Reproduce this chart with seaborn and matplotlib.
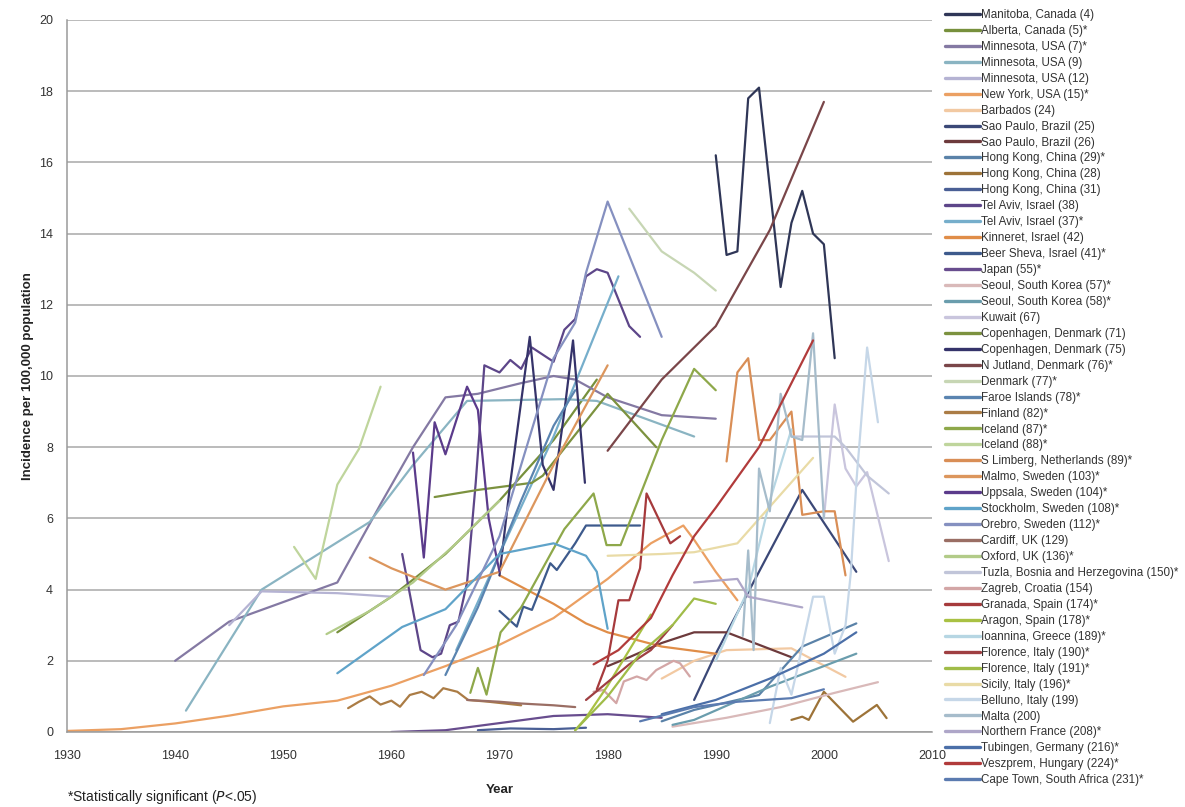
import matplotlib
matplotlib.use("Agg")
import matplotlib.pyplot as plt
import pandas as pd
import seaborn as sns

# Crohn's disease incidence per 100,000 over time, one line per study region
MANITOBA_4 = ([1990, 1991, 1992, 1993, 1994, 1996, 1997, 1998, 1999, 2000, 2001],
              [16.2, 13.4, 13.5, 17.8, 18.1, 12.5, 14.3, 15.2, 14.0, 13.7, 10.5])
ALBERTA_5 = ([1955, 1960, 1965, 1970, 1975, 1979], [2.8, 3.8, 5.0, 6.5, 8.2, 9.9])
MINNESOTA_7 = ([1940, 1945, 1955, 1959, 1962, 1965, 1968, 1972, 1975, 1977, 1980, 1985, 1990],
               [2.0, 3.1, 4.2, 6.4, 8.0, 9.4, 9.5, 9.8, 10.0, 9.9, 9.4, 8.9, 8.8])
MINNESOTA_9 = ([1941, 1948, 1958, 1962, 1967, 1976, 1979, 1988],
               [0.6, 4.0, 5.9, 7.5, 9.3, 9.35, 9.3, 8.3])
MINNESOTA_12 = ([1945, 1948, 1955, 1960], [3.0, 3.95, 3.9, 3.8])
NEW_YORK_15 = ([1930, 1935, 1940, 1945, 1950, 1955, 1960, 1965, 1970, 1975, 1980, 1984, 1987, 1988, 1990, 1992],
               [0.03, 0.08, 0.24, 0.46, 0.72, 0.88, 1.3, 1.85, 2.45, 3.2, 4.3, 5.3, 5.8, 5.4, 4.5, 3.7])
BARBADOS_24 = ([1985, 1988, 1991, 1997, 2002], [1.5, 2.0, 2.3, 2.35, 1.55])
SAO_PAULO_25 = ([1988, 1990, 1998, 2003], [0.9, 2.2, 6.8, 4.5])
SAO_PAULO_26 = ([1980, 1982, 1985, 1988, 1991, 1997], [1.85, 2.1, 2.5, 2.8, 2.8, 2.1])
HONG_KONG_29 = ([1985, 1988, 1994, 1998, 2003], [0.3, 0.62, 1.04, 2.4, 3.05])
HONG_KONG_28 = ([1997, 1998, 1998.6, 2000, 2002.7, 2004.9, 2005.8],
                [0.34, 0.43, 0.34, 1.13, 0.29, 0.76, 0.39])
HONG_KONG_31 = ([1968, 1971, 1975, 1978], [0.05, 0.1, 0.08, 0.12])
TEL_AVIV_38 = ([1961, 1962.7, 1963.8, 1964.6, 1965.4, 1966.2, 1967.0, 1967.8, 1968.6, 1970, 1971, 1972,
                1973, 1974, 1975, 1976, 1977, 1978, 1979, 1980, 1982, 1983],
               [5.0, 2.3, 2.1, 2.2, 3.0, 3.1, 4.2, 7.0, 10.3, 10.1, 10.45, 10.2,
                10.8, 10.6, 10.4, 11.3, 11.6, 12.8, 13.0, 12.9, 11.4, 11.1])
TEL_AVIV_37 = ([1966, 1970, 1975, 1981], [2.3, 5.0, 8.3, 12.8])
KINNERET_42 = ([1970, 1975, 1978, 1980, 1985, 1990], [4.4, 3.6, 3.05, 2.8, 2.4, 2.2])
BEER_SHEVA_41 = ([1970, 1971.6, 1972.2, 1973, 1974.7, 1975.3, 1977, 1978, 1983],
                 [3.4, 2.96, 3.52, 3.43, 4.74, 4.55, 5.3, 5.8, 5.8])
JAPAN_55 = ([1960, 1965, 1970, 1975, 1980, 1985], [0.0, 0.05, 0.25, 0.45, 0.5, 0.4])
SEOUL_57 = ([1986, 1991, 1996, 2001, 2005], [0.15, 0.4, 0.7, 1.1, 1.4])
SEOUL_58 = ([1986, 1988, 1995, 2003], [0.2, 0.34, 1.27, 2.2])
KUWAIT_67 = ([2000, 2001, 2002, 2003, 2004, 2006], [6.0, 9.2, 7.4, 6.9, 7.3, 4.8])
COPENHAGEN_71 = ([1964, 1968, 1973, 1974, 1980, 1984.5], [6.6, 6.8, 7.0, 7.2, 9.5, 8.0])
COPENHAGEN_75 = ([1970, 1971, 1972.8, 1974, 1975, 1976, 1976.8, 1977.9],
                 [4.4, 7.0, 11.1, 7.5, 6.8, 9.0, 11.0, 7.0])
N_JUTLAND_76 = ([1980, 1985, 1990, 1995, 2000], [7.9, 9.9, 11.4, 14.1, 17.7])
DENMARK_77 = ([1982, 1985, 1988, 1990], [14.7, 13.5, 12.9, 12.4])
FAROE_78 = ([1965, 1968, 1970, 1972, 1975, 1977], [1.6, 3.5, 5.0, 6.5, 8.6, 9.6])
FINLAND_82 = ([1956, 1957, 1958, 1959, 1960, 1960.8, 1961.7, 1962.8, 1963.9, 1964.8, 1966.1, 1967.1, 1969, 1972],
              [0.67, 0.85, 1.0, 0.77, 0.88, 0.71, 1.04, 1.13, 0.95, 1.23, 1.13, 0.9, 0.85, 0.75])
ICELAND_87 = ([1967.3, 1968, 1968.8, 1970.1, 1972, 1974, 1976, 1978.7, 1979.9, 1981.2, 1985, 1988, 1990],
              [1.1, 1.8, 1.05, 2.8, 3.5, 4.6, 5.7, 6.7, 5.25, 5.25, 8.2, 10.2, 9.6])
ICELAND_88 = ([1951, 1953, 1955, 1957, 1959], [5.2, 4.3, 6.95, 7.95, 9.7])
S_LIMBERG_89 = ([1991, 1992, 1993, 1994, 1995, 1996, 1997, 1998, 2000, 2001, 2002],
                [7.6, 10.1, 10.5, 8.2, 8.2, 8.6, 9.0, 6.1, 6.2, 6.2, 4.4])
MALMO_103 = ([1958, 1960, 1965, 1968, 1970, 1975, 1980], [4.9, 4.6, 4.0, 4.3, 4.5, 7.5, 10.3])
UPPSALA_104 = ([1962, 1963, 1964, 1965, 1967, 1968, 1969, 1970], [7.85, 4.9, 8.7, 7.8, 9.7, 9.05, 6.0, 4.5])
STOCKHOLM_108 = ([1955, 1961, 1965, 1970, 1975, 1978, 1979, 1980], [1.65, 2.95, 3.45, 5.0, 5.3, 4.95, 4.5, 2.9])
OREBRO_112 = ([1963, 1966, 1970, 1973, 1975, 1977, 1978, 1980, 1985],
              [1.6, 3.0, 5.5, 8.5, 10.5, 11.5, 12.9, 14.9, 11.1])
CARDIFF_129 = ([1967, 1970, 1972, 1975, 1977], [0.9, 0.85, 0.8, 0.75, 0.7])
OXFORD_136 = ([1954, 1958, 1962, 1966, 1970], [2.75, 3.4, 4.2, 5.3, 6.5])
TUZLA_150 = ([1997, 1999, 2001, 2002, 2003, 2004, 2006], [8.3, 8.3, 8.3, 8.0, 7.6, 7.2, 6.7])
ZAGREB_154 = ([1978.7, 1979.6, 1980.8, 1981.5, 1982.7, 1983.6, 1984.5, 1986.1, 1986.7, 1987.6],
              [1.13, 1.18, 0.81, 1.42, 1.56, 1.46, 1.74, 2.0, 1.93, 1.56])
GRANADA_174 = ([1979, 1980, 1981, 1982, 1983, 1983.6, 1985.8, 1986.7], [1.2, 2.0, 3.7, 3.7, 4.6, 6.7, 5.3, 5.5])
ARAGON_178 = ([1977, 1978, 1980, 1982, 1984], [0.05, 0.4, 1.3, 2.3, 3.3])
IOANNINA_189 = ([1990, 1993, 1995, 1997], [2.0, 4.0, 6.5, 8.5])
FLORENCE_190 = ([1978, 1980, 1982, 1984, 1986], [0.9, 1.4, 1.9, 2.3, 3.0])
FLORENCE_191 = ([1977, 1980, 1983, 1986, 1988, 1990], [0.05, 1.0, 2.2, 3.0, 3.75, 3.6])
SICILY_196 = ([1980, 1985, 1988, 1992, 1999], [4.95, 5.0, 5.05, 5.3, 7.7])
BELLUNO_199 = ([1995, 1996, 1997, 1998, 1999, 2000, 2001, 2002, 2002.5, 2003, 2004, 2005],
               [0.25, 1.8, 1.05, 2.4, 3.8, 3.8, 2.2, 3.0, 4.5, 7.0, 10.8, 8.7])
MALTA_200 = ([1992.5, 1993, 1993.5, 1994, 1995, 1996, 1997, 1998, 1999, 2000],
             [2.7, 5.1, 2.3, 7.4, 6.2, 9.5, 8.3, 8.2, 11.2, 6.0])
N_FRANCE_208 = ([1988, 1992, 1993, 1998], [4.2, 4.3, 3.8, 3.5])
TUBINGEN_216 = ([1985, 1990, 1995, 2000, 2003], [0.5, 0.9, 1.5, 2.2, 2.8])
VESZPREM_224 = ([1978.7, 1981, 1984, 1986, 1988, 1990, 1994, 1999], [1.9, 2.3, 3.2, 4.4, 5.5, 6.3, 8.0, 11.0])
CAPE_TOWN_231 = ([1983, 1988, 1992, 1997, 2000], [0.3, 0.7, 0.85, 0.95, 1.2])

# legend label, data, line colour (in legend order)
SERIES = [
    ("Manitoba, Canada (4)", MANITOBA_4, "#2f3657"),
    ("Alberta, Canada (5)*", ALBERTA_5, "#77903c"),
    ("Minnesota, USA (7)*", MINNESOTA_7, "#8479a3"),
    ("Minnesota, USA (9)", MINNESOTA_9, "#8ab4c2"),
    ("Minnesota, USA (12)", MINNESOTA_12, "#b5b3d3"),
    ("New York, USA (15)*", NEW_YORK_15, "#eba063"),
    ("Barbados (24)", BARBADOS_24, "#f2c9a2"),
    ("Sao Paulo, Brazil (25)", SAO_PAULO_25, "#3b4877"),
    ("Sao Paulo, Brazil (26)", SAO_PAULO_26, "#6d3a3c"),
    ("Hong Kong, China (29)*", HONG_KONG_29, "#5a82a8"),
    ("Hong Kong, China (28)", HONG_KONG_28, "#9d7338"),
    ("Hong Kong, China (31)", HONG_KONG_31, "#4a5f95"),
    ("Tel Aviv, Israel (38)", TEL_AVIV_38, "#5d4689"),
    ("Tel Aviv, Israel (37)*", TEL_AVIV_37, "#76aecb"),
    ("Kinneret, Israel (42)", KINNERET_42, "#e08d48"),
    ("Beer Sheva, Israel (41)*", BEER_SHEVA_41, "#3d5a8c"),
    ("Japan (55)*", JAPAN_55, "#684d8e"),
    ("Seoul, South Korea (57)*", SEOUL_57, "#d9b9b9"),
    ("Seoul, South Korea (58)*", SEOUL_58, "#6a9dad"),
    ("Kuwait (67)", KUWAIT_67, "#c9c5dd"),
    ("Copenhagen, Denmark (71)", COPENHAGEN_71, "#7c923f"),
    ("Copenhagen, Denmark (75)", COPENHAGEN_75, "#35336a"),
    ("N Jutland, Denmark (76)*", N_JUTLAND_76, "#7a4649"),
    ("Denmark (77)*", DENMARK_77, "#c7d6b4"),
    ("Faroe Islands (78)*", FAROE_78, "#5a84b0"),
    ("Finland (82)*", FINLAND_82, "#ab7c45"),
    ("Iceland (87)*", ICELAND_87, "#8ea84a"),
    ("Iceland (88)*", ICELAND_88, "#bfd59c"),
    ("S Limberg, Netherlands (89)*", S_LIMBERG_89, "#d98e56"),
    ("Malmo, Sweden (103)*", MALMO_103, "#dc965d"),
    ("Uppsala, Sweden (104)*", UPPSALA_104, "#5b3b8b"),
    ("Stockholm, Sweden (108)*", STOCKHOLM_108, "#5fa3c9"),
    ("Orebro, Sweden (112)*", OREBRO_112, "#8590c0"),
    ("Cardiff, UK (129)", CARDIFF_129, "#9a6e64"),
    ("Oxford, UK (136)*", OXFORD_136, "#b2cb88"),
    ("Tuzla, Bosnia and Herzegovina (150)*", TUZLA_150, "#c1c5d9"),
    ("Zagreb, Croatia (154)", ZAGREB_154, "#d3a6a6"),
    ("Granada, Spain (174)*", GRANADA_174, "#a63a3c"),
    ("Aragon, Spain (178)*", ARAGON_178, "#a9c143"),
    ("Ioannina, Greece (189)*", IOANNINA_189, "#b6d6e3"),
    ("Florence, Italy (190)*", FLORENCE_190, "#9f3f42"),
    ("Florence, Italy (191)*", FLORENCE_191, "#a0bc48"),
    ("Sicily, Italy (196)*", SICILY_196, "#e9dba6"),
    ("Belluno, Italy (199)", BELLUNO_199, "#c6d7e8"),
    ("Malta (200)", MALTA_200, "#a6bccb"),
    ("Northern France (208)*", N_FRANCE_208, "#aea6c8"),
    ("Tubingen, Germany (216)*", TUBINGEN_216, "#4b6fa8"),
    ("Veszprem, Hungary (224)*", VESZPREM_224, "#b13b3b"),
    ("Cape Town, South Africa (231)*", CAPE_TOWN_231, "#5b7bb0"),
]

rows = []
for label, (years, rates), _ in SERIES:
    for yr, rt in zip(years, rates):
        rows.append({"region": label, "year": yr, "rate": rt})
df = pd.DataFrame(rows)
labels = [s[0] for s in SERIES]
palette = {s[0]: s[2] for s in SERIES}

sns.set_style("white")
plt.rcParams["font.family"] = ["Liberation Sans", "DejaVu Sans"]

fig = plt.figure(figsize=(11.85, 8.07), dpi=100)
ax = fig.add_axes([67 / 1185, 1 - 732 / 807, (932 - 67) / 1185, (732 - 20) / 807])

sns.lineplot(data=df, x="year", y="rate", hue="region", hue_order=labels,
             palette=palette, estimator=None, sort=False, linewidth=1.6, ax=ax)

ax.set_xlim(1930, 2010)
ax.set_ylim(0, 20)
ax.set_xticks(range(1930, 2011, 10))
ax.set_yticks(range(0, 21, 2))
ax.yaxis.grid(True, color="#a8a8a8", linewidth=1.1)
ax.xaxis.grid(False)
ax.set_axisbelow(True)
for side in ("top", "right"):
    ax.spines[side].set_visible(False)
for side in ("left", "bottom"):
    ax.spines[side].set_color("#9a9a9a")
    ax.spines[side].set_linewidth(1.1)
ax.tick_params(axis="both", direction="out", length=4, width=1, color="#9a9a9a",
               labelsize=9, labelcolor="#333333", pad=3)
ax.tick_params(axis="y", pad=6)
ax.tick_params(axis="x", pad=9)

ax.set_xlabel("Year", fontsize=9.5, fontweight="bold", color="#222222", labelpad=16)
ax.set_ylabel("Incidence per 100,000 population", fontsize=9.5, fontweight="bold",
              color="#222222", labelpad=4)

handles, hlabels = ax.get_legend_handles_labels()
ax.get_legend().remove()
leg = fig.legend(handles, hlabels, loc="upper left",
                 bbox_to_anchor=(945 / 1185, 1 - 9 / 807), frameon=False,
                 fontsize=8.4, handlelength=3.0, handletextpad=0.1,
                 labelspacing=0.338, borderpad=0, borderaxespad=0)
for line in leg.get_lines():
    line.set_linewidth(2.4)
for txt in leg.get_texts():
    txt.set_color("#333333")

fig.text(67 / 1185, 1 - 797 / 807, r"*Statistically significant ($\it{P}$<.05)",
         fontsize=10, color="#222222", va="center")

fig.savefig("out.png", dpi=100)
